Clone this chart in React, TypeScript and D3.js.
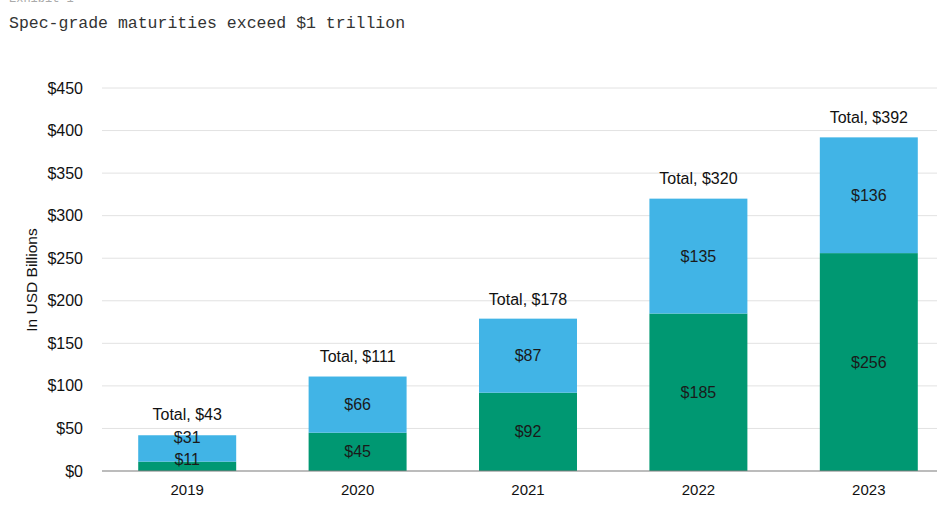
import * as d3 from "d3";

const years = ["2019", "2020", "2021", "2022", "2023"];
const lower = [11, 45, 92, 185, 256];
const upper = [31, 66, 87, 135, 136];
const totals = [43, 111, 178, 320, 392];
const yTicks = [0, 50, 100, 150, 200, 250, 300, 350, 400, 450];

const W = 937;
const H = 508;
const BLUE = "#41b4e6";
const GREEN = "#009872";
const FONT = "'Liberation Sans', Arial, sans-serif";

export default function App() {
  const x = d3.scaleBand().domain(years).range([102, 954]).paddingInner(0.425).paddingOuter(0.2125);
  const y = d3.scaleLinear().domain([0, 450]).range([471, 88]);

  return (
    <svg
      width={W}
      height={H}
      style={{ position: "absolute", left: 0, top: 0, background: "#fff" }}
      fontFamily={FONT}
    >
      <text x={9} y={2} fontFamily="'Liberation Mono', monospace" fontSize={12} fill="#aaa">
        Exhibit 1
      </text>
      <text x={9} y={28} fontFamily="'Liberation Mono', monospace" fontSize={16.5} fill="#333">
        Spec-grade maturities exceed $1 trillion
      </text>

      {yTicks.map((t) => (
        <g key={t}>
          {t > 0 && <line x1={102} x2={W} y1={y(t)} y2={y(t)} stroke="#e2e2e2" strokeWidth={1} />}
          <text x={83} y={y(t)} dy="0.35em" textAnchor="end" fontSize={16} fill="#111">
            ${t}
          </text>
        </g>
      ))}

      <text
        transform={`translate(37,280) rotate(-90)`}
        textAnchor="middle"
        fontSize={15.5}
        fill="#111"
      >
        In USD Billions
      </text>

      {years.map((yr, i) => {
        const bx = x(yr)!;
        const bw = x.bandwidth();
        const cx = bx + bw / 2;
        const lowCenter = (y(0) + y(lower[i])) / 2;
        const upCenter = (y(lower[i]) + y(lower[i] + upper[i])) / 2;
        const lowY = Math.min(lowCenter, y(0) - 12);
        const upY = Math.min(upCenter, lowY - 22);
        return (
          <g key={yr}>
            <rect x={bx} width={bw} y={y(lower[i])} height={y(0) - y(lower[i])} fill={GREEN} />
            <rect
              x={bx}
              width={bw}
              y={y(lower[i] + upper[i])}
              height={y(lower[i]) - y(lower[i] + upper[i])}
              fill={BLUE}
            />
            <text x={cx} y={lowY} dy="0.35em" textAnchor="middle" fontSize={16} fill="#1a1a1a">
              ${lower[i]}
            </text>
            <text x={cx} y={upY} dy="0.35em" textAnchor="middle" fontSize={16} fill="#1a1a1a">
              ${upper[i]}
            </text>
            <text x={cx} y={y(totals[i]) - 20} dy="0.35em" textAnchor="middle" fontSize={16} fill="#111">
              Total, ${totals[i]}
            </text>
            <text x={cx} y={490} dy="0.35em" textAnchor="middle" fontSize={15} fill="#111">
              {yr}
            </text>
          </g>
        );
      })}

      <line x1={102} x2={W} y1={y(0)} y2={y(0)} stroke="#7a7a7a" strokeWidth={1.2} />
    </svg>
  );
}
